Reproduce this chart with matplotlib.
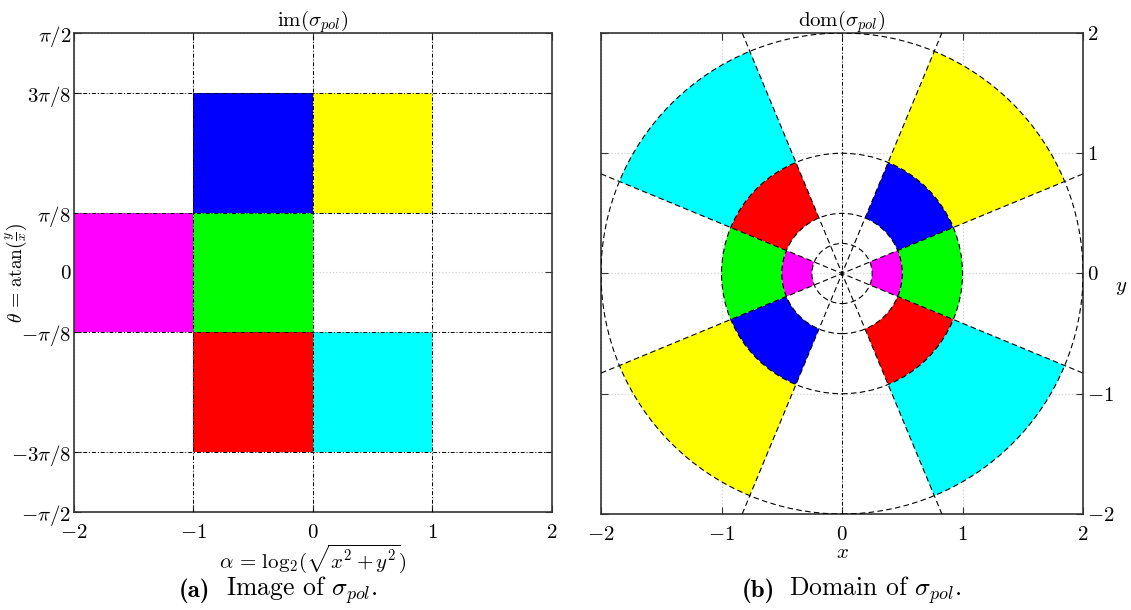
import matplotlib
matplotlib.use("Agg")
import matplotlib.pyplot as plt
import numpy as np
from matplotlib.patches import Wedge, Circle

plt.rcParams["mathtext.fontset"] = "cm"
plt.rcParams["font.family"] = "serif"
plt.rcParams["font.serif"] = ["cmr10", "DejaVu Serif"]
plt.rcParams["axes.unicode_minus"] = False

# regions of the image: alpha = log2(r) range, theta range, colour
alpha_lo = [-1, 0, -2, -1, -1, 0]
alpha_hi = [0, 1, -1, 0, 0, 1]
theta_lo = [np.pi / 8, np.pi / 8, -np.pi / 8, -np.pi / 8, -3 * np.pi / 8, -3 * np.pi / 8]
theta_hi = [3 * np.pi / 8, 3 * np.pi / 8, np.pi / 8, np.pi / 8, -np.pi / 8, -np.pi / 8]
colors = ["#0000ff", "#ffff00", "#ff00ff", "#00ff00", "#ff0000", "#00ffff"]

# partition lines
alpha_cuts = [-1, 0, 1]
theta_cuts = [-3 * np.pi / 8, -np.pi / 8, np.pi / 8, 3 * np.pi / 8]
radii = [0.25, 0.5, 1, 2]

x_ticks = [-2, -1, 0, 1, 2]
th_ticks = [-np.pi / 2, -3 * np.pi / 8, -np.pi / 8, 0, np.pi / 8, 3 * np.pi / 8, np.pi / 2]
th_labels = [r"$-\pi/2$", r"$-3\pi/8$", r"$-\pi/8$", r"$0$", r"$\pi/8$", r"$3\pi/8$", r"$\pi/2$"]
xy_ticks = [-2, -1, 0, 1, 2]

TS = 15
LS = 15
spine_c = "#333333"

fig = plt.figure(figsize=(11.31, 6.10), dpi=100)
ax1 = fig.add_axes([0.0654, 0.1607, 0.4226, 0.7852])
ax2 = fig.add_axes([0.5314, 0.1574, 0.4262, 0.7885])


def style(ax):
    for s in ax.spines.values():
        s.set_color(spine_c)
        s.set_linewidth(1.2)
    ax.tick_params(direction="in", length=5, width=0.8, colors=spine_c,
                   labelcolor="black", labelsize=TS, top=True, right=True, pad=3)
    ax.tick_params(axis="x", pad=9)
    ax.grid(True, color="#d0d0d0", linestyle=":", linewidth=0.9)
    ax.set_axisbelow(True)


# (a) image
style(ax1)
ax1.bar(alpha_lo, np.subtract(theta_hi, theta_lo), width=np.subtract(alpha_hi, alpha_lo),
        bottom=theta_lo, align="edge", color=colors, linewidth=0, zorder=2)
for a in alpha_cuts:
    ax1.axvline(a, color="black", linestyle="-.", linewidth=0.7, dashes=(4, 2, 1, 2), zorder=3)
for t in theta_cuts:
    ax1.axhline(t, color="black", linestyle="-.", linewidth=0.7, dashes=(4, 2, 1, 2), zorder=3)
ax1.set_xlim(-2, 2)
ax1.set_ylim(-np.pi / 2, np.pi / 2)
ax1.set_xticks(x_ticks)
ax1.set_xticklabels([f"${v}$" for v in x_ticks])
ax1.set_yticks(th_ticks)
ax1.set_yticklabels(th_labels)
ax1.tick_params(axis="y", pad=2)
ax1.set_title(r"$\mathrm{im}(\sigma_{pol})$", fontsize=LS, pad=5)
ax1.set_xlabel(r"$\alpha\,=\,\mathrm{log}_2(\sqrt{x^2+y^2})$", fontsize=LS, labelpad=0)
ax1.set_ylabel(r"$\theta\,=\,\mathrm{atan}(\frac{y}{x})$", fontsize=14)
ax1.yaxis.set_label_coords(-0.094, 0.5)

# (b) domain
style(ax2)
for lo, hi, t0, t1, c in zip(alpha_lo, alpha_hi, theta_lo, theta_hi, colors):
    r_in, r_out = 2.0 ** lo, 2.0 ** hi
    for off in (0, 180):
        ax2.add_patch(Wedge((0, 0), r_out, np.degrees(t0) + off, np.degrees(t1) + off,
                            width=r_out - r_in, facecolor=c, edgecolor="none", zorder=2))
for r in radii:
    ax2.add_patch(Circle((0, 0), r, fill=False, edgecolor="black", linestyle=(0, (5, 3)),
                         linewidth=0.8, zorder=3))
for t in theta_cuts:
    ax2.axline((0, 0), slope=np.tan(t), color="black", linestyle=(0, (5, 3)), linewidth=0.8, zorder=3)
ax2.axvline(0, color="black", linestyle="-.", linewidth=0.7, dashes=(4, 2, 1, 2), zorder=3)
ax2.set_xlim(-2, 2)
ax2.set_ylim(-2, 2)
ax2.set_xticks(xy_ticks)
ax2.set_xticklabels([f"${v}$" for v in xy_ticks])
ax2.set_yticks(xy_ticks)
ax2.set_yticklabels([f"${v}$" for v in xy_ticks])
ax2.tick_params(labelleft=False, labelright=True)
ax2.yaxis.set_label_position("right")
ax2.set_title(r"$\mathrm{dom}(\sigma_{pol})$", fontsize=LS, pad=5)
ax2.set_xlabel(r"$x$", fontsize=LS, labelpad=0)
ax2.set_ylabel(r"$y$", fontsize=LS, rotation=0, va="center", ha="center")
ax2.yaxis.set_label_coords(1.08, 0.47)

# captions
cap_y = 0.032
fig.text(179 / 1131, cap_y, "(a)", family="cmb10", fontsize=18, ha="left", va="center")
fig.text(226 / 1131, cap_y, r"Image of $\sigma_{pol}$.", fontsize=18.5, ha="left", va="center")
fig.text(742 / 1131, cap_y, "(b)", family="cmb10", fontsize=18, ha="left", va="center")
fig.text(789 / 1131, cap_y, r"Domain of $\sigma_{pol}$.", fontsize=18.5, ha="left", va="center")

fig.savefig("out.png", dpi=100)
